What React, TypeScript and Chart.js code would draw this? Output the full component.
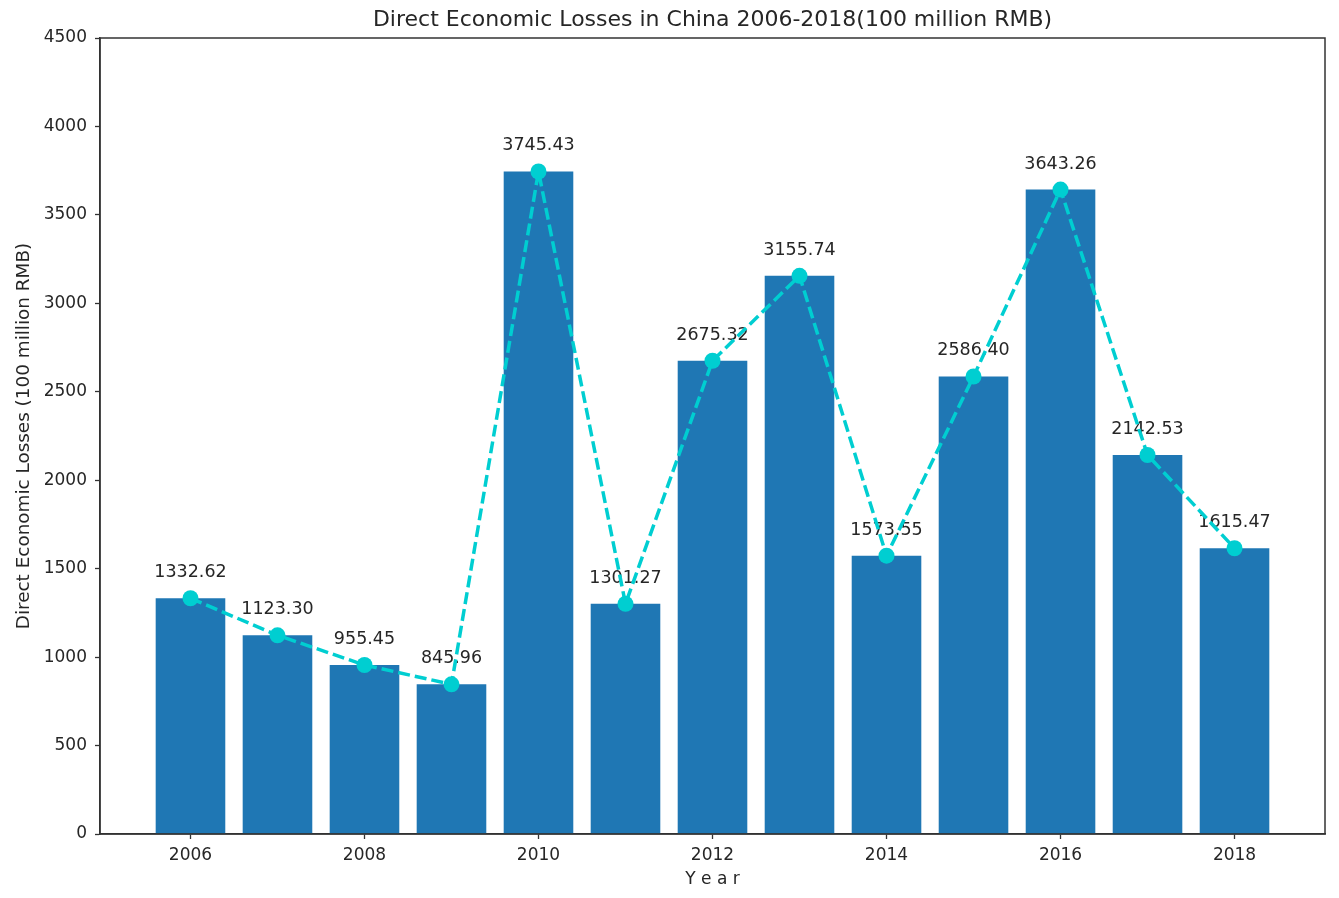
import React, { useEffect, useRef } from "react";
import { Chart, registerables } from "chart.js";

Chart.register(...registerables);

const years = [2006, 2007, 2008, 2009, 2010, 2011, 2012, 2013, 2014, 2015, 2016, 2017, 2018];
const losses = [1332.62, 1123.3, 955.45, 845.96, 3745.43, 1301.27, 2675.32, 3155.74, 1573.55, 2586.4, 3643.26, 2142.53, 1615.47];
const xTickValues = [2006, 2008, 2010, 2012, 2014, 2016, 2018];
const yTickStep = 500;
const yMax = 4500;
const chartTitle = "Direct Economic Losses in China 2006-2018(100 million RMB)";

const FONT = "'DejaVu Sans', sans-serif";
const TEXT = "#262626";
const SPINE = "#333333";

const labelPlugin = {
  id: "valueLabels",
  afterDatasetDraw(chart: any, args: any) {
    if (args.meta.type !== "bar") return;
    const { ctx } = chart;
    const xs = chart.scales.x;
    const ys = chart.scales.y;
    ctx.save();
    ctx.font = `17.5px ${FONT}`;
    ctx.fillStyle = TEXT;
    ctx.textAlign = "center";
    ctx.textBaseline = "alphabetic";
    years.forEach((yr, i) => {
      const px = xs.getPixelForValue(yr);
      const py = ys.getPixelForValue(losses[i]);
      ctx.fillText(losses[i].toFixed(2), px, py - 21);
    });
    ctx.restore();
  },
};

const framePlugin = {
  id: "frame",
  afterDraw(chart: any) {
    const { ctx, chartArea } = chart;
    ctx.save();
    ctx.strokeStyle = SPINE;
    ctx.lineWidth = 1.5;
    ctx.strokeRect(chartArea.left, chartArea.top, chartArea.right - chartArea.left, chartArea.bottom - chartArea.top);
    // title centred over the plot area
    ctx.font = `22px ${FONT}`;
    ctx.fillStyle = TEXT;
    ctx.textAlign = "center";
    ctx.textBaseline = "middle";
    ctx.fillText(chartTitle, (chartArea.left + chartArea.right) / 2, chartArea.top - 18);
    ctx.restore();
  },
};

export default function App() {
  const ref = useRef<HTMLCanvasElement | null>(null);

  useEffect(() => {
    if (!ref.current) return;
    Chart.defaults.font.family = FONT;
    const chart = new Chart(ref.current, {
      type: "bar",
      data: {
        datasets: [
          {
            type: "bar",
            data: years.map((y, i) => ({ x: y, y: losses[i] })),
            backgroundColor: "#1f77b4",
            borderWidth: 0,
            categoryPercentage: 1,
            barPercentage: 0.8,
            order: 2,
          } as any,
          {
            type: "line",
            data: years.map((y, i) => ({ x: y, y: losses[i] })),
            borderColor: "#00CED1",
            backgroundColor: "#00CED1",
            borderWidth: 3.5,
            borderDash: [12, 5],
            pointRadius: 8,
            pointBorderWidth: 0,
            pointBackgroundColor: "#00CED1",
            tension: 0,
            order: 1,
          } as any,
        ],
      },
      options: {
        animation: false,
        responsive: true,
        maintainAspectRatio: false,
        layout: { padding: { left: 0, right: 14, top: 38, bottom: 0 } },
        plugins: {
          legend: { display: false },
          tooltip: { enabled: false },
          title: { display: false },
        },
        scales: {
          x: {
            type: "linear",
            min: 2004.96,
            max: 2019.04,
            offset: false,
            afterBuildTicks(scale: any) {
              scale.ticks = xTickValues.map((v) => ({ value: v }));
            },
            afterFit(scale: any) {
              scale.height = 64;
            },
            ticks: {
              callback: (v: any) => String(v),
              color: TEXT,
              font: { size: 17, family: FONT },
              padding: 6,
              maxRotation: 0,
              autoSkip: false,
            },
            grid: {
              offset: false,
              drawOnChartArea: false,
              drawTicks: true,
              tickLength: 5,
              tickColor: SPINE,
              tickWidth: 1.3,
            },
            border: { display: true, color: SPINE, width: 1.5 },
            title: {
              display: true,
              text: "Y e a r",
              color: TEXT,
              font: { size: 17, family: FONT },
              padding: { top: 0, bottom: 8 },
            },
          },
          y: {
            type: "linear",
            min: 0,
            max: yMax,
            afterFit(scale: any) {
              scale.width = 100;
            },
            ticks: {
              stepSize: yTickStep,
              color: TEXT,
              font: { size: 17, family: FONT },
              padding: 8,
              callback: (v: any) => String(v),
            },
            grid: {
              drawOnChartArea: false,
              drawTicks: true,
              tickLength: 5,
              tickColor: SPINE,
              tickWidth: 1.3,
            },
            border: { display: true, color: SPINE, width: 1.5 },
            title: {
              display: true,
              text: "Direct Economic Losses (100 million RMB)",
              color: TEXT,
              font: { size: 18.4, family: FONT },
              padding: { top: 13, bottom: 0 },
            },
          },
        },
      } as any,
      plugins: [labelPlugin, framePlugin],
    });
    return () => chart.destroy();
  }, []);

  return (
    <div style={{ position: "fixed", left: 0, top: 0, width: 1339, height: 898, background: "#fff" }}>
      <canvas ref={ref} />
    </div>
  );
}
